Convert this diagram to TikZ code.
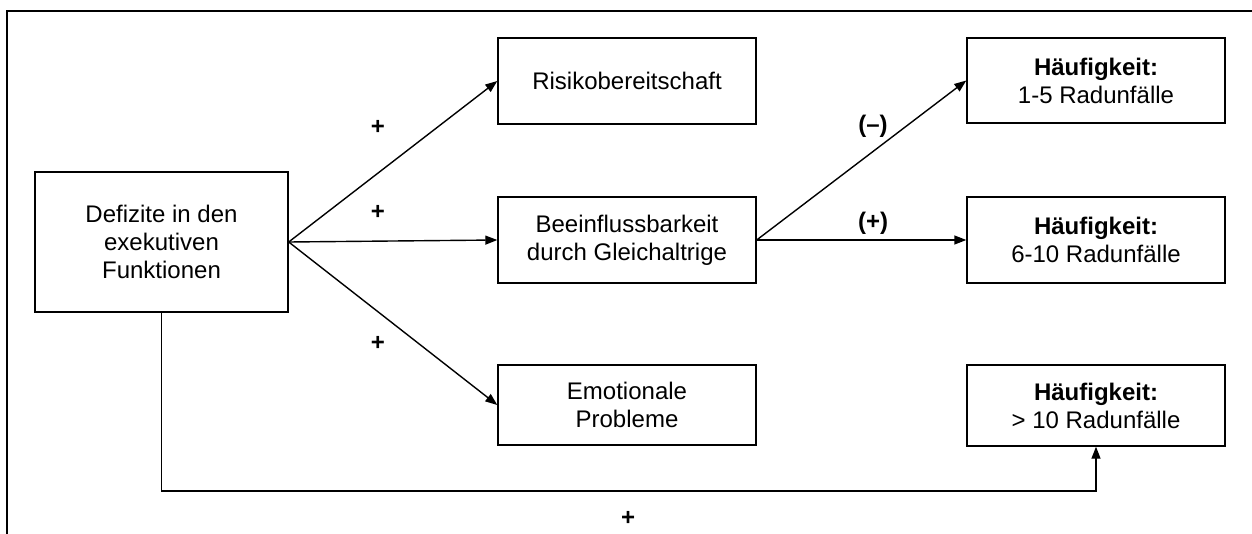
\documentclass[tikz,border=0pt]{standalone}
\usepackage{fontspec}
\setmainfont{Liberation Sans}
\usetikzlibrary{arrows.meta}
\begin{document}
\begin{tikzpicture}[x=0.5pt,y=-0.5pt,
  every node/.style={font=\fontsize{12}{14}\selectfont},
  box/.style={draw,line width=0.7pt,minimum width=129pt,align=center,inner sep=0pt},
  conn/.style={line width=0.7pt,-{Triangle[length=6pt,width=4.5pt]}},
  sign/.style={font=\fontsize{12}{14}\selectfont\bfseries,inner sep=0pt}]
\useasboundingbox (0,0) rectangle (1252,534);
% frame
\draw[line width=0.6pt] (7,534) -- (7,11) -- (1252,11);
% boxes
\node[box,minimum width=126.5pt,minimum height=70pt] (D) at (161.5,242) {Defizite in den\\exekutiven\\Funktionen};
\node[box,minimum height=43pt] (R) at (627,81) {Risikobereitschaft};
\node[box,minimum height=43pt] (B) at (627,240) {Beeinflussbarkeit\\durch Gleichaltrige};
\node[box,minimum height=40pt] (E) at (627,405) {Emotionale\\Probleme};
\node[box,minimum height=42.5pt] (H1) at (1096,80.5) {\textbf{Häufigkeit:}\\1-5 Radunfälle};
\node[box,minimum height=43pt] (H2) at (1096,240) {\textbf{Häufigkeit:}\\6-10 Radunfälle};
\node[box,minimum height=40.5pt] (H3) at (1096,405.5) {\textbf{Häufigkeit:}\\> 10 Radunfälle};
% connectors
\draw[conn] (D.east) -- (R.west);
\draw[conn] (D.east) -- (B.west);
\draw[conn] (D.east) -- (E.west);
\draw[conn] (B.east) -- (H1.west);
\draw[conn] (B.east) -- (H2.west);
\coordinate (bot) at (1096,491);
\draw[conn] (D.south) |- (bot) -- (H3.south);
% labels
\node[sign] (p1) at (378,127) {+};
\node[sign] (p2) at (378,212) {+};
\node[sign] (p3) at (378,343) {+};
\node[sign] (p4) at (628,518) {+};
\node[sign] (m1) at (873,126) {(–)};
\node[sign] (m2) at (873,223) {(+)};
\end{tikzpicture}
\end{document}
